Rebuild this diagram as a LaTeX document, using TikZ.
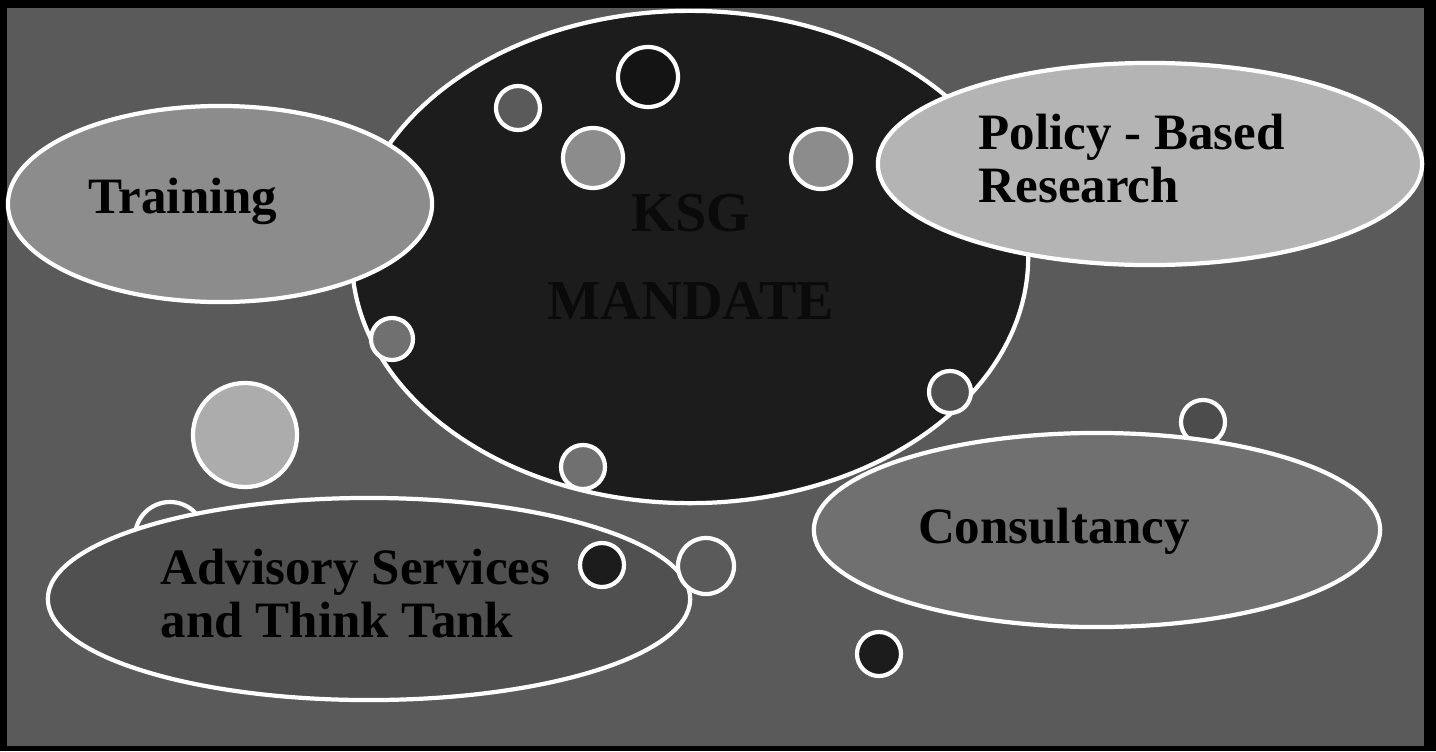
\documentclass[tikz,border=0pt]{standalone}
\usepackage{fontspec}
\setmainfont{Liberation Serif}
\usepackage{xcolor}
\usetikzlibrary{shapes.geometric}

\definecolor{slate}{HTML}{5A5A5A}
\definecolor{coal}{HTML}{1C1C1C}
\definecolor{ink}{HTML}{0A0A0A}
\definecolor{fogA}{HTML}{8C8C8C}
\definecolor{fogB}{HTML}{B4B4B4}
\definecolor{fogC}{HTML}{707070}
\definecolor{fogD}{HTML}{505050}

\begin{document}
\begin{tikzpicture}[x=0.01cm, y=-0.01cm,
  rim/.style={draw=white, line width=1.2pt},
  oval/.style={rim, ellipse, inner sep=0pt},
  bubble/.style={rim, circle, inner sep=0pt},
  lbl/.style={font=\bfseries\fontsize{14.5}{15}\selectfont, text=black, inner sep=0pt, align=left}]
\fill[black] (0,0) rectangle (1436,751);
\fill[slate] (7,8) rectangle (1424,746);

\node[oval, fill=coal, minimum width=6.76cm, minimum height=4.92cm] (mandate) at (690,257) {};
\node[bubble, fill=gray!70!black, minimum size=0.7cm] (b-adv) at (170,537) {};
\node[bubble, fill=slate!85!black, minimum size=0.44cm] (b-con) at (1203,422) {};

\node[oval, fill=fogA, minimum width=4.24cm, minimum height=1.96cm] (training) at (220,204) {};
\node[oval, fill=fogB, minimum width=5.44cm, minimum height=2.02cm] (policy) at (1150,164) {};
\node[oval, fill=fogC, minimum width=5.66cm, minimum height=1.94cm] (consult) at (1097,530) {};
\node[oval, fill=fogD, minimum width=6.42cm, minimum height=2.02cm] (advisory) at (369,599) {};

\node[bubble, fill=coal!70!black, minimum size=0.6cm] (b1) at (648,77) {};
\node[bubble, fill=slate, minimum size=0.44cm] (b2) at (518,108) {};
\node[bubble, fill=fogA, minimum size=0.6cm] (b3) at (593,158) {};
\node[bubble, fill=fogA, minimum size=0.6cm] (b4) at (821,159) {};
\node[bubble, fill=fogC, minimum size=0.42cm] (b5) at (392,339) {};
\node[bubble, fill=fogD, minimum size=0.42cm] (b6) at (950,392) {};
\node[bubble, fill=fogC, minimum size=0.44cm] (b7) at (583,467) {};
\node[bubble, fill=gray!65, minimum size=1.04cm] (b8) at (245,435) {};
\node[bubble, fill=coal, minimum size=0.44cm] (b9) at (602,565) {};
\node[bubble, fill=slate, minimum size=0.56cm] (b10) at (706,566) {};
\node[bubble, fill=coal, minimum size=0.44cm] (b11) at (879,654) {};

\node[lbl, font=\bfseries\fontsize{16}{25}\selectfont, text=ink, align=center] (mandate-t) at (691,257) {KSG\\MANDATE};
\node[lbl, anchor=base] (training-t) at (183,213) {Training};
\node[lbl, anchor=base west] (policy-t) at (978,202) {Policy - Based\\Research};
\node[lbl, anchor=base] (consult-t) at (1054,543) {Consultancy};
\node[lbl, anchor=base west] (advisory-t) at (160,637) {Advisory Services\\and Think Tank};
\end{tikzpicture}
\end{document}
